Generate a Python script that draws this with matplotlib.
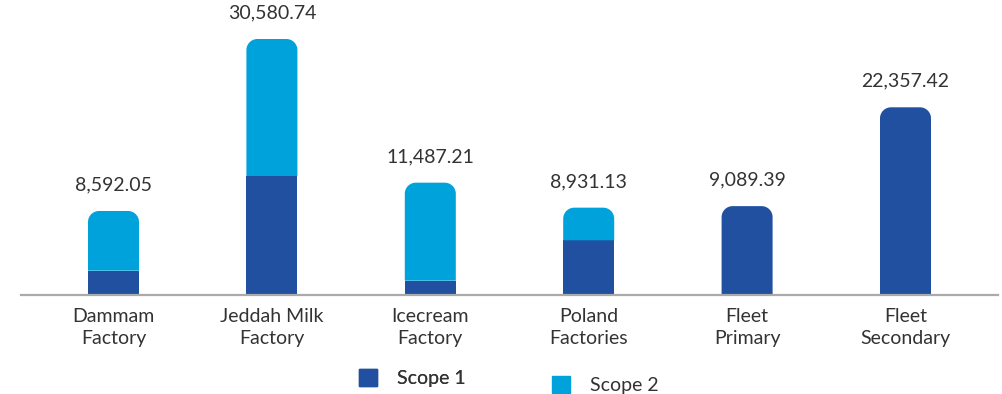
import numpy as np
import matplotlib; matplotlib.use("Agg")
import matplotlib.pyplot as plt
from matplotlib.path import Path
from matplotlib.patches import PathPatch, Patch

# ── Data ─────────────────────────────────────────────────────────────────────
sites  = ["Dammam\nFactory", "Jeddah Milk\nFactory", "Icecream\nFactory",
          "Poland\nFactories", "Fleet\nPrimary", "Fleet\nSecondary"]
scope1 = [2485, 12170, 1462, 5594, 9089, 19196]
scope2 = [6107, 14011, 10025, 3337, 0, 0]
# printed totals (the two tallest bars are drawn shorter than their labels in the source)
totals = ["8,592.05", "30,580.74", "11,487.21", "8,931.13", "9,089.39", "22,357.42"]

C1, C2 = "#2150a1", "#00a2dc"
TXT = "#333333"
FS = 14
plt.rcParams["font.family"] = ["Lato", "DejaVu Sans"]

fig = plt.figure(figsize=(10.03, 3.94), dpi=100)
ax = fig.add_axes([21 / 1003, 0.2513, 977 / 1003, 0.7487])

x = np.arange(len(sites))
b1 = ax.bar(x, scope1, width=0.322, color=C1)
b2 = ax.bar(x, scope2, width=0.322, bottom=scope1, color=C2)

ax.set_xlim(-0.584, 5.584)
ax.set_ylim(0, 30170)

# round off the top corners of the top segment of every stack
def rounded_top(rect, rx, ry):
    x0, y0 = rect.get_x(), rect.get_y()
    x1, y1 = x0 + rect.get_width(), y0 + rect.get_height()
    k = 0.5523
    verts = [(x0, y0), (x1, y0), (x1, y1 - ry),
             (x1, y1 - ry + k * ry), (x1 - rx + k * rx, y1), (x1 - rx, y1),
             (x0 + rx, y1),
             (x0 + rx - k * rx, y1), (x0, y1 - ry + k * ry), (x0, y1 - ry),
             (x0, y0)]
    codes = [Path.MOVETO, Path.LINETO, Path.LINETO,
             Path.CURVE4, Path.CURVE4, Path.CURVE4,
             Path.LINETO,
             Path.CURVE4, Path.CURVE4, Path.CURVE4,
             Path.CLOSEPOLY]
    return Path(verts, codes)

fig.canvas.draw()
px_x = ax.transData.transform((1, 0))[0] - ax.transData.transform((0, 0))[0]
px_y = ax.transData.transform((0, 1000))[1] - ax.transData.transform((0, 0))[1]
rx, ry = 11 / px_x, 11 / px_y * 1000

for r1, r2 in zip(b1, b2):
    top = r2 if r2.get_height() > 0 else r1
    top.set_visible(False)
    ax.add_patch(PathPatch(rounded_top(top, rx, ry), facecolor=top.get_facecolor(),
                           edgecolor="none"))

for i, lab in enumerate(totals):
    ax.annotate(lab, (x[i], scope1[i] + scope2[i]), xytext=(0, 14.8),
                textcoords="offset points", ha="center", va="baseline",
                fontsize=FS, color=TXT)

for s in ["top", "right", "left"]:
    ax.spines[s].set_visible(False)
ax.spines["bottom"].set_color("#aaaaaa")
ax.spines["bottom"].set_linewidth(1.6)
ax.set_yticks([])
ax.set_xticks(x)
ax.set_xticklabels(sites, fontsize=FS, color=TXT, linespacing=1.35)
ax.tick_params(axis="x", length=0, pad=9.5)

leg_kw = dict(loc="center left", frameon=False, fontsize=FS,
              handlelength=0.95, handleheight=0.95, handletextpad=1.0,
              borderpad=0, borderaxespad=0, labelcolor=TXT)
leg1 = fig.legend(handles=[Patch(color=C1, label="Scope 1")],
                  bbox_to_anchor=(359 / 1003, 1 - 378 / 394), **leg_kw)
leg2 = fig.legend(handles=[Patch(color=C2, label="Scope 2")],
                  bbox_to_anchor=(552 / 1003, 1 - 385 / 394), **leg_kw)
fig.add_artist(leg1)

fig.savefig("out.png", dpi=100)
